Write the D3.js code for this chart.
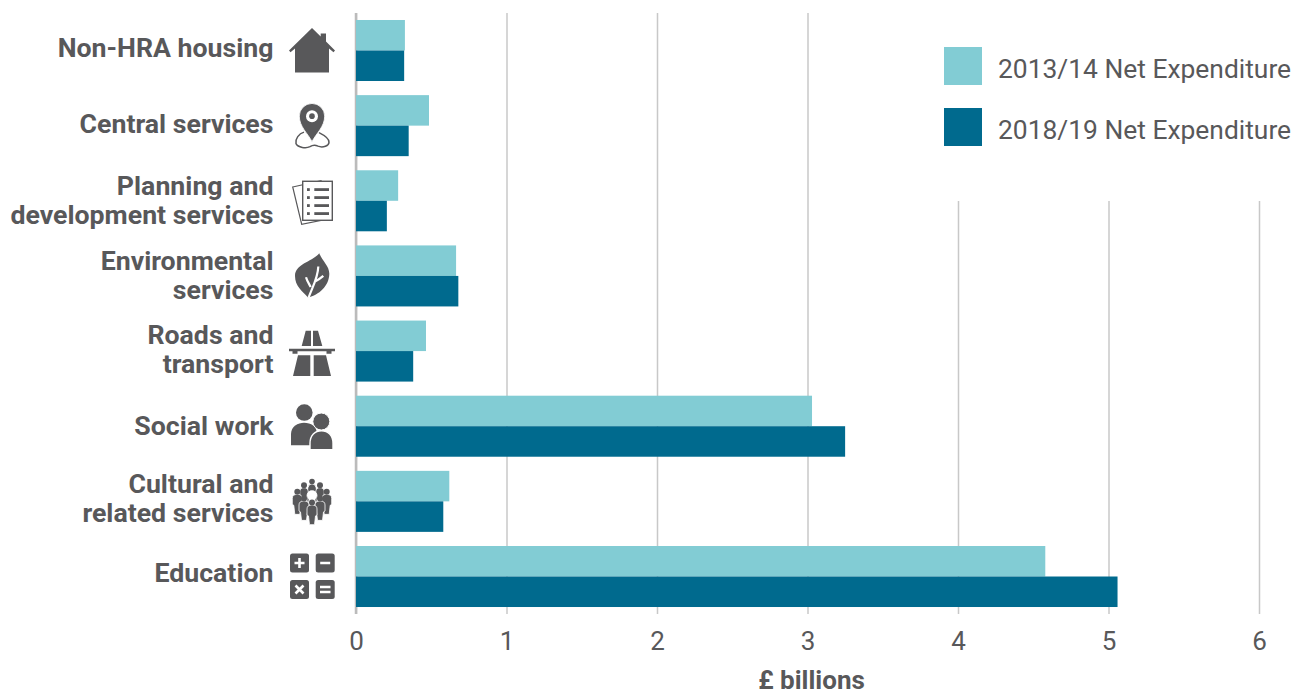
<!DOCTYPE html>
<html lang="en">
<head>
<meta charset="utf-8">
<title>Net expenditure</title>
<script src="https://cdn.jsdelivr.net/npm/d3@7"></script>
<style>
  body { margin: 0; background: #fff; }
  text { font-family: Roboto, sans-serif; fill: #58585a; }
</style>
</head>
<body>
<div id="chart"></div>
<script>
// values, £ billions
var categories = ["Non-HRA housing", "Central services", "Planning and|development services",
  "Environmental|services", "Roads and|transport", "Social work", "Cultural and|related services", "Education"]
var net1314 = [0.325, 0.485, 0.28, 0.665, 0.465, 3.03, 0.62, 4.58]
var net1819 = [0.32, 0.35, 0.205, 0.68, 0.38, 3.25, 0.58, 5.06]
var seriesNames = ["2013/14 Net Expenditure", "2018/19 Net Expenditure"]
var xTicks = [0, 1, 2, 3, 4, 5, 6]
var iconNames = ["house", "pin", "list", "leaf", "road", "people", "crowd", "calc"]

var w = 1295, h = 691
var light = "#82ccd4", dark = "#006a8e", ink = "#58585a", rule = "#c8c8c8"
// labels were placed by hand in the original, not quite centred
var labelNudge = [0, 0, 2, 2, 0, 2, -1, -1]

var svg = d3.select("#chart").append("svg").attr("width", w).attr("height", h)

var x = d3.scaleLinear().domain([0, 6]).range([356, 1259])
var y = d3.scaleBand().domain(d3.range(categories.length)).range([13, 614]).paddingInner(0.188).paddingOuter(0.093)
var sub = d3.scaleBand().domain([0, 1]).range([0, y.bandwidth()])

// gridlines + tick labels
var xAxis = d3.axisBottom(x).tickValues(xTicks).tickFormat(d3.format("d")).tickSize(-601).tickSizeOuter(0).tickPadding(17.5)
var gx = svg.append("g").attr("transform", "translate(0,614)").call(xAxis)
gx.select(".domain").remove()
gx.selectAll("line").attr("stroke", rule).attr("stroke-width", 1.5)
gx.selectAll("text").attr("font-size", 26).style("font-family", "Roboto, sans-serif").attr("fill", ink)

// axis line at zero
svg.append("line").attr("x1", x(0)).attr("x2", x(0)).attr("y1", 13).attr("y2", 614)
  .attr("stroke", "#bbb").attr("stroke-width", 2.5)

// legend sits on a white box that hides the top of the gridlines
svg.append("rect").attr("x", 905).attr("y", 13).attr("width", 390).attr("height", 188).attr("fill", "#fff")

// bars
var groups = svg.selectAll(".cat").data(categories).enter().append("g")
  .attr("class", "cat")
  .attr("transform", function(d, i) { return "translate(0," + y(i) + ")" })

groups.append("rect")
  .attr("x", x(0)).attr("y", sub(0)).attr("height", sub.bandwidth())
  .attr("width", function(d, i) { return x(net1314[i]) - x(0) })
  .attr("fill", light)
groups.append("rect")
  .attr("x", x(0)).attr("y", sub(1)).attr("height", sub.bandwidth())
  .attr("width", function(d, i) { return x(net1819[i]) - x(0) })
  .attr("fill", dark)

// category labels
groups.each(function(d, i) {
  var lines = d.split("|")
  var t = d3.select(this).append("text")
    .attr("text-anchor", "end").attr("font-size", 26.7).attr("font-weight", 700)
    .attr("x", 273.5)
  lines.forEach(function(l, k) {
    t.append("tspan").attr("x", 273.5)
      .attr("y", y.bandwidth() / 2 + 7 + labelNudge[i] + (k - (lines.length - 1) / 2) * 29)
      .text(l)
  })
})

// axis title
svg.append("text").attr("x", 811.5).attr("y", 689).attr("text-anchor", "middle")
  .attr("font-size", 26).attr("font-weight", 700).text("£ billions")

// legend
var legendY = d3.scalePoint().domain(seriesNames).range([47, 108])
seriesNames.forEach(function(s, i) {
  svg.append("rect").attr("x", 944).attr("y", legendY(s)).attr("width", 38).attr("height", 38)
    .attr("fill", i == 0 ? light : dark)
  svg.append("text").attr("x", 998).attr("y", legendY(s) + 31).attr("font-size", 26.4).text(s)
})

// icons, each drawn around its own centre
var icons = {
  house: function(g) {
    g.append("path").attr("fill", ink).attr("d",
      "M0,-22.5 L8.7,-14 V-17 H14 V-9 L23,0 L21.5,1.8 L17,-2 V22 H-17 V-2 L-21.5,1.8 L-23,0 Z")
  },
  pin: function(g) {
    g.append("path").attr("fill", "none").attr("stroke", ink).attr("stroke-width", 1.5).attr("d",
      "M-8,6.5 C-13,8 -17,13 -16,18 C-14,22 -6,23 -2,21 C1,19 3,19 6,20.5 C11,22.5 17,20 17,16.5 C17,12 11,9 7,7")
    g.append("path").attr("fill", ink).attr("stroke", "#fff").attr("stroke-width", 0.8).attr("d",
      "M0,16 C-4,8 -12.7,1 -12.7,-9.5 A12.7,12.7 0 1 1 12.7,-9.5 C12.7,1 4,8 0,16 Z")
    g.append("circle").attr("cy", -9.5).attr("r", 6).attr("fill", "#fff")
    g.append("circle").attr("cy", -9.5).attr("r", 2.8).attr("fill", ink)
  },
  list: function(g) {
    g.append("path").attr("fill", "#fff").attr("stroke", ink).attr("stroke-width", 1.2)
      .attr("d", "M-19.3,-13.8 L9,-20 L17,18 L-10.3,23.5 Z")
    g.append("rect").attr("x", -9.3).attr("y", -19.5).attr("width", 29.6).attr("height", 39)
      .attr("fill", "#fff").attr("stroke", ink).attr("stroke-width", 1.4)
    ;[-11.2, -3.2, 4.8, 12.8].forEach(function(ly) {
      g.append("rect").attr("x", -5).attr("y", ly - 1.4).attr("width", 2.8).attr("height", 2.8).attr("fill", ink)
      g.append("rect").attr("x", 2.3).attr("y", ly - 1.4).attr("width", 14.7).attr("height", 2.8).attr("fill", ink)
    })
  },
  leaf: function(g) {
    g.append("path").attr("fill", ink).attr("d",
      "M7.3,-22.7 C10,-15 17.5,-10 17.3,-2 C17,10 7,19 -4,21.5 C-10,15 -17,10 -17,0 C-17,-12 0,-14 7.3,-22.7 Z")
    g.append("path").attr("fill", "none").attr("stroke", "#fff").attr("stroke-width", 2.2).attr("d",
      "M-3.5,22 C0,12 6,2 6.3,-9.5 M-1.3,11 C-3,8 -5,5 -6,1.3 M3,5.7 C6,4 9,2 11.3,0")
  },
  road: function(g) {
    g.append("path").attr("fill", ink).attr("d",
      "M-6.3,-20.3 H-1 V-5 H-10.3 Z M1,-20.3 H6 L10.3,-5 H1 Z" +
      "M-23,-2.3 H23 V0.3 H-23 Z M-19.5,0.3 H-14.5 V2.6 H-19.5 Z M14.5,0.3 H19.5 V2.6 H14.5 Z" +
      "M-14,4.3 H-1.7 V25 H-19 Z M1.7,4.3 H14 L19,25 H1.7 Z")
  },
  people: function(g) {
    g.append("circle").attr("cx", -7.7).attr("cy", -13.7).attr("r", 8.3).attr("fill", ink)
    g.append("path").attr("fill", ink).attr("d", "M-21,19 V8 C-21,0 -14,-3.5 -8,-3.5 C-1,-3.5 5,0 5,8 V19 Z")
    g.append("circle").attr("cx", 9.3).attr("cy", -4.7).attr("r", 8.5).attr("fill", ink).attr("stroke", "#fff").attr("stroke-width", 1)
    g.append("path").attr("fill", ink).attr("stroke", "#fff").attr("stroke-width", 1.4)
      .attr("d", "M-2,23.5 V17 C-2,9 3,4.5 9.5,4.5 C16,4.5 21,9 21,17 V23.5 Z")
  },
  crowd: function(g) {
    // head at (px,py), body tapering down to foot
    var person = function(px, py, foot, bw, hr) {
      g.append("path").attr("fill", ink).attr("stroke", "#fff").attr("stroke-width", 0.8)
        .attr("d", "M" + (px - bw) + "," + (py + 6) +
          " Q" + (px - bw) + "," + (py + 2) + " " + px + "," + (py + 2) +
          " Q" + (px + bw) + "," + (py + 2) + " " + (px + bw) + "," + (py + 6) +
          " V" + (py + 12) + " L" + (px + bw - 1.5) + "," + (py + 13) +
          " L" + (px + 2.5) + "," + foot + " H" + (px - 2.5) +
          " L" + (px - bw + 1.5) + "," + (py + 13) + " L" + (px - bw) + "," + (py + 12) + " Z")
      g.append("circle").attr("cx", px).attr("cy", py - 0.5).attr("r", hr).attr("fill", ink)
    }
    person(0, -19.4, -4, 4, 2.8)
    person(-8, -15.7, -2, 4.2, 3)
    person(8, -15.7, -2, 4.2, 3)
    person(0, -11.7, -4, 5, 3.6)
    person(-14.7, -9, 13, 5, 3)
    person(14.7, -9, 13, 5, 3)
    g.append("circle").attr("r", 5).attr("cy", -6).attr("fill", "#fff")
    person(-8, -2.4, 19, 5, 3)
    person(8, -2.4, 19, 5, 3)
    person(0, 1.6, 23.3, 5, 3)
  },
  calc: function(g) {
    var boxes = [[-22, -23], [3.7, -23], [-22, 3.5], [3.7, 3.5]]
    boxes.forEach(function(b) {
      g.append("rect").attr("x", b[0]).attr("y", b[1]).attr("width", 19).attr("height", 19).attr("rx", 2.5).attr("fill", ink)
    })
    var sym = [
      "M-17.5,-13.5 H-7.5 M-12.5,-18.5 V-8.5",
      "M8.2,-13.5 H18.2",
      "M-16.5,9 L-8.5,17 M-8.5,9 L-16.5,17",
      "M8,10.5 H18.5 M8,15.5 H18.5"
    ]
    g.append("path").attr("fill", "none").attr("stroke", "#fff").attr("stroke-width", 2.6).attr("d", sym.join(" "))
  }
}

iconNames.forEach(function(name, i) {
  var g = svg.append("g").attr("transform", "translate(312," + (y(i) + y.bandwidth() / 2) + ")")
  icons[name](g)
})
</script>
</body>
</html>
